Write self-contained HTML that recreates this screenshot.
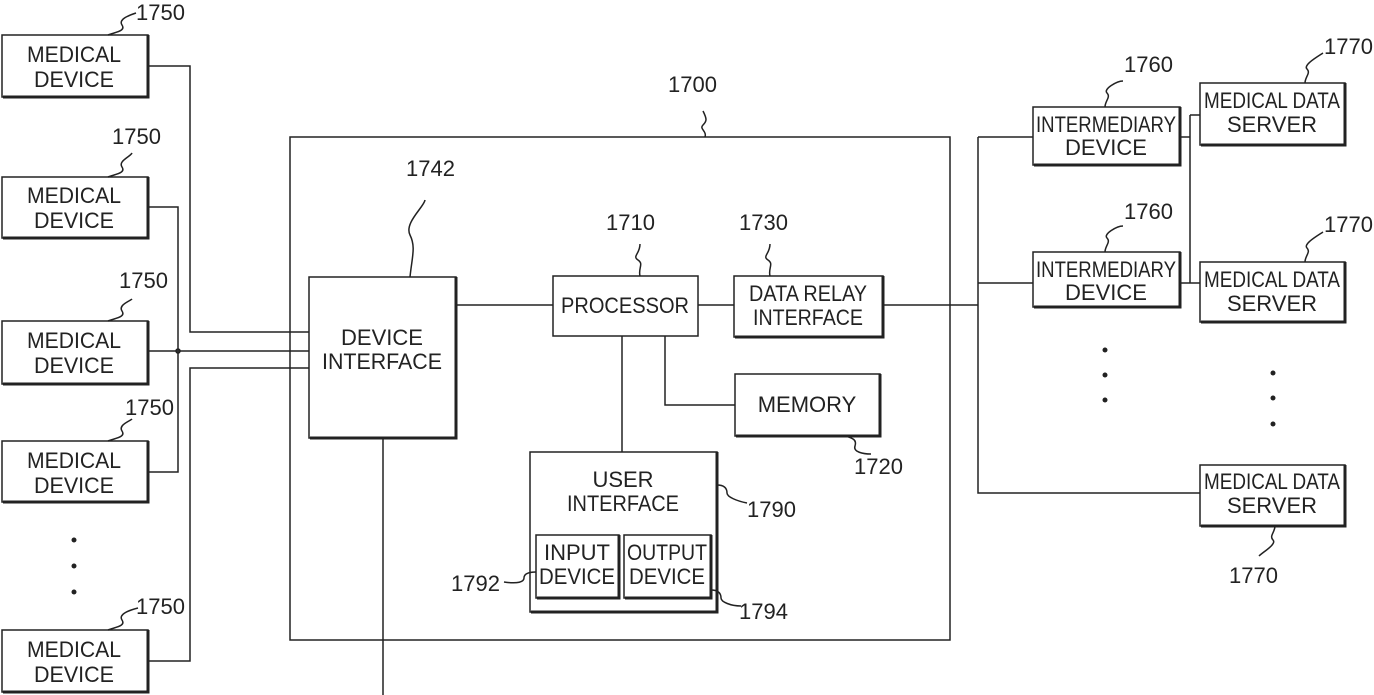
<!DOCTYPE html>
<html><head><meta charset="utf-8"><style>
html,body{margin:0;padding:0;background:#fff;}
svg{display:block}
text{font-family:"Liberation Sans",sans-serif;font-size:22px;fill:#222;text-anchor:middle}
.n{font-size:22px;text-anchor:start}
</style></head><body>
<svg width="1374" height="695" viewBox="0 0 1374 695" xmlns="http://www.w3.org/2000/svg">
<g fill="none" stroke="#222" stroke-width="1.5">
<rect x="2" y="35" width="146" height="62"/><path d="M3 97H148V35" stroke-width="3"/>
<rect x="2" y="177" width="146" height="61"/><path d="M3 238H148V177" stroke-width="3"/>
<rect x="2" y="321" width="146" height="63"/><path d="M3 384H148V321" stroke-width="3"/>
<rect x="2" y="441" width="146" height="61"/><path d="M3 502H148V441" stroke-width="3"/>
<rect x="2" y="630" width="146" height="62"/><path d="M3 692H148V630" stroke-width="3"/>
<path d="M148 66H190V332H309"/>
<path d="M148 207H178V472H148"/>
<path d="M148 351H309"/>
<path d="M148 661H190V368H309"/>
<circle cx="178" cy="351" r="2"/>
<rect x="290" y="137" width="660" height="503"/>
<rect x="309" y="277" width="147" height="161"/><path d="M310 438H456V277" stroke-width="3"/>
<path d="M383 438V695"/>
<path d="M456 305H553"/>
<rect x="553" y="276" width="145" height="60"/>
<path d="M698 305H734"/>
<rect x="734" y="276" width="149" height="61"/><path d="M735 337H883V276" stroke-width="3"/>
<path d="M883 305H978"/>
<rect x="735" y="374" width="145" height="62"/><path d="M736 436H880V374" stroke-width="3"/>
<path d="M665 336V405H735"/>
<path d="M622 336V452"/>
<rect x="530" y="452" width="187" height="160"/><path d="M531 612H717V452" stroke-width="3"/>
<rect x="536" y="535" width="83" height="63"/><path d="M537 598H619V535" stroke-width="3"/>
<rect x="624" y="535" width="87" height="63"/><path d="M625 598H711V535" stroke-width="3"/>
<path d="M978 137V493H1200"/>
<path d="M978 137H1033"/>
<path d="M978 283H1033"/>
<rect x="1033" y="107" width="147" height="58"/><path d="M1034 165H1180V107" stroke-width="3"/>
<rect x="1033" y="252" width="147" height="55"/><path d="M1034 307H1180V252" stroke-width="3"/>
<path d="M1180 137H1190M1180 283H1190M1190 115V283M1190 115H1200M1190 283H1200"/>
<rect x="1200" y="83" width="145" height="62"/><path d="M1201 145H1345V83" stroke-width="3"/>
<rect x="1200" y="262" width="145" height="60"/><path d="M1201 322H1345V262" stroke-width="3"/>
<rect x="1200" y="465" width="145" height="61"/><path d="M1201 526H1345V465" stroke-width="3"/>
<path d="M108 35c8-3 18-4 14-10s8-10 14-12"/>
<path d="M108 177c8-3 18-4 14-10s8-10 10-14"/>
<path d="M108 321c8-3 18-4 14-10s8-10 10-12"/>
<path d="M108 441c8-3 18-4 14-10s8-10 10-12"/>
<path d="M108 630c8-3 18-4 14-10s8-10 16-12"/>
<path d="M410 277c2-20 6-30 0-42s14-28 15-35"/>
<path d="M640 276c-2-8 4-12-2-16s2-6 2-16"/>
<path d="M770 276c-2-8 4-12-2-16s2-6 2-16"/>
<path d="M705 137c2-6-6-8-2-12s4-6 0-14"/>
<path d="M845 436c8 2 12 4 10 10s8 8 16 8"/>
<path d="M717 485c8 0 10 4 10 8s10 8 20 10"/>
<path d="M536 572c-8 0-12 2-12 6s-6 6-20 4"/>
<path d="M711 590c8 0 10 4 10 8s10 8 20 8"/>
<path d="M1105 107c0-6 6-10 2-14s10-12 16-12"/>
<path d="M1105 252c0-6 6-10 2-14s10-12 16-12"/>
<path d="M1305 83c0-6 6-10 2-14s10-12 16-16"/>
<path d="M1305 262c0-6 6-10 2-14s10-12 16-16"/>
<path d="M1275 526c0 6-6 10-2 14s-10 12-14 16"/>
</g>
<g fill="#222">
<circle cx="74" cy="540" r="2.5"/><circle cx="74" cy="566" r="2.5"/><circle cx="74" cy="592" r="2.5"/>
<circle cx="1105" cy="350" r="2.5"/><circle cx="1105" cy="375" r="2.5"/><circle cx="1105" cy="400" r="2.5"/>
<circle cx="1273" cy="373" r="2.5"/><circle cx="1273" cy="398" r="2.5"/><circle cx="1273" cy="424" r="2.5"/>
</g>
<g>
<text x="74" y="62" textLength="94" lengthAdjust="spacingAndGlyphs">MEDICAL</text><text x="74" y="87" textLength="80" lengthAdjust="spacingAndGlyphs">DEVICE</text>
<text x="74" y="203" textLength="94" lengthAdjust="spacingAndGlyphs">MEDICAL</text><text x="74" y="228" textLength="80" lengthAdjust="spacingAndGlyphs">DEVICE</text>
<text x="74" y="348" textLength="94" lengthAdjust="spacingAndGlyphs">MEDICAL</text><text x="74" y="373" textLength="80" lengthAdjust="spacingAndGlyphs">DEVICE</text>
<text x="74" y="468" textLength="94" lengthAdjust="spacingAndGlyphs">MEDICAL</text><text x="74" y="493" textLength="80" lengthAdjust="spacingAndGlyphs">DEVICE</text>
<text x="74" y="657" textLength="94" lengthAdjust="spacingAndGlyphs">MEDICAL</text><text x="74" y="682" textLength="80" lengthAdjust="spacingAndGlyphs">DEVICE</text>
<text x="382" y="345">DEVICE</text><text x="382" y="369" textLength="120" lengthAdjust="spacingAndGlyphs">INTERFACE</text>
<text x="625" y="313" textLength="128" lengthAdjust="spacingAndGlyphs">PROCESSOR</text>
<text x="808" y="301" textLength="118" lengthAdjust="spacingAndGlyphs">DATA RELAY</text><text x="808" y="325" textLength="110" lengthAdjust="spacingAndGlyphs">INTERFACE</text>
<text x="807" y="412">MEMORY</text>
<text x="623" y="487">USER</text><text x="623" y="511" textLength="112" lengthAdjust="spacingAndGlyphs">INTERFACE</text>
<text x="577" y="560" textLength="66" lengthAdjust="spacingAndGlyphs">INPUT</text><text x="577" y="584" textLength="76" lengthAdjust="spacingAndGlyphs">DEVICE</text>
<text x="667" y="560" textLength="80" lengthAdjust="spacingAndGlyphs">OUTPUT</text><text x="667" y="584" textLength="76" lengthAdjust="spacingAndGlyphs">DEVICE</text>
<text x="1106" y="132" textLength="140" lengthAdjust="spacingAndGlyphs">INTERMEDIARY</text><text x="1106" y="155">DEVICE</text>
<text x="1106" y="277" textLength="140" lengthAdjust="spacingAndGlyphs">INTERMEDIARY</text><text x="1106" y="300">DEVICE</text>
<text x="1272" y="108" textLength="136" lengthAdjust="spacingAndGlyphs">MEDICAL DATA</text><text x="1272" y="132">SERVER</text>
<text x="1272" y="287" textLength="136" lengthAdjust="spacingAndGlyphs">MEDICAL DATA</text><text x="1272" y="311">SERVER</text>
<text x="1272" y="489" textLength="136" lengthAdjust="spacingAndGlyphs">MEDICAL DATA</text><text x="1272" y="513">SERVER</text>
<text class="n" x="136" y="20">1750</text>
<text class="n" x="112" y="144">1750</text>
<text class="n" x="119" y="288">1750</text>
<text class="n" x="125" y="415">1750</text>
<text class="n" x="136" y="614">1750</text>
<text class="n" x="406" y="176">1742</text>
<text class="n" x="668" y="92">1700</text>
<text class="n" x="606" y="230">1710</text>
<text class="n" x="739" y="230">1730</text>
<text class="n" x="854" y="474">1720</text>
<text class="n" x="747" y="517">1790</text>
<text class="n" x="451" y="591">1792</text>
<text class="n" x="739" y="619">1794</text>
<text class="n" x="1124" y="72">1760</text>
<text class="n" x="1124" y="219">1760</text>
<text class="n" x="1324" y="54">1770</text>
<text class="n" x="1324" y="232">1770</text>
<text class="n" x="1229" y="583">1770</text>
</g>
</svg>
</body></html>
